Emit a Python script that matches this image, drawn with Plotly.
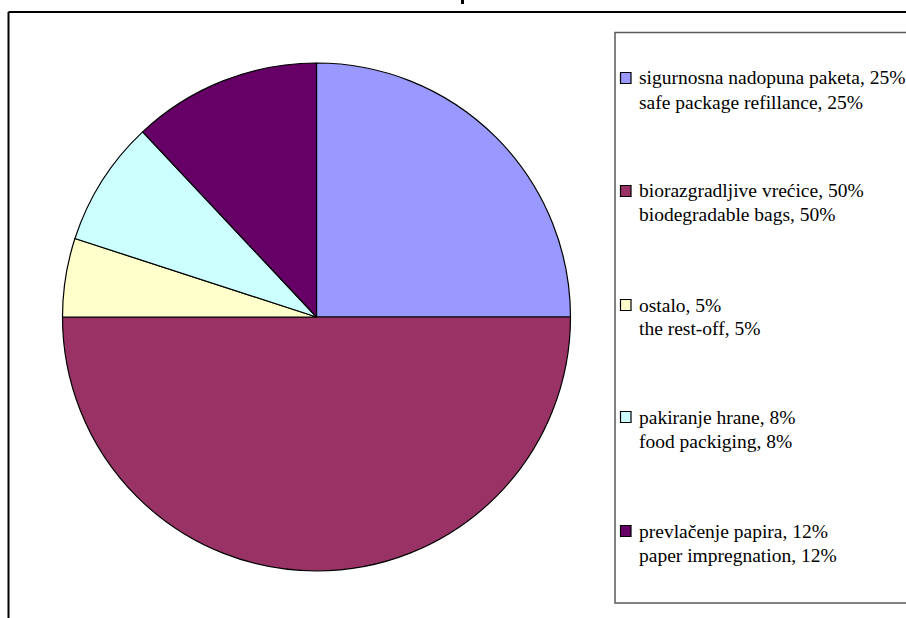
import plotly.graph_objects as go

# Share of use, in percent (Croatian / English labels)
labels_hr = ["sigurnosna nadopuna paketa", "biorazgradljive vrećice", "ostalo",
             "pakiranje hrane", "prevlačenje papira"]
labels_en = ["safe package refillance", "biodegradable bags", "the rest-off",
             "food packiging", "paper impregnation"]
values = [25, 50, 5, 8, 12]
colors = ["#9999FF", "#993366", "#FFFFCC", "#CCFFFF", "#660066"]

W, H = 906, 618
SERIF = "Times New Roman, Liberation Serif, Tinos, DejaVu Serif, serif"


def px(x):
    return x / W


def py(y):
    return 1 - y / H


# pie geometry in pixels
cx, cy, r = 316.5, 317, 254

fig = go.Figure(go.Pie(
    labels=[f"{a}, {v}%" for a, v in zip(labels_hr, values)],
    values=values,
    sort=False,
    direction="clockwise",
    rotation=0,
    marker=dict(colors=colors, line=dict(color="black", width=1.2)),
    textinfo="none",
    hoverinfo="skip",
    showlegend=False,
    domain=dict(x=[px(cx - r), px(cx + r)], y=[py(cy + r), py(cy - r)]),
))

shapes = [
    # outer frame (top and left edges)
    dict(type="line", xref="paper", yref="paper", x0=px(8.5), x1=px(W + 5),
         y0=py(12), y1=py(12), line=dict(color="black", width=2)),
    dict(type="line", xref="paper", yref="paper", x0=px(8.5), x1=px(8.5),
         y0=py(12), y1=py(H + 5), line=dict(color="black", width=2)),
    # small tick above the frame
    dict(type="rect", xref="paper", yref="paper", x0=px(461), x1=px(464),
         y0=py(0), y1=py(4), line=dict(width=0), fillcolor="black"),
    # legend box
    dict(type="rect", xref="paper", yref="paper", x0=px(615), x1=px(W + 10),
         y0=py(32.5), y1=py(603), line=dict(color="#5a5a5a", width=1.5),
         fillcolor="rgba(0,0,0,0)"),
]

annotations = []
item_y = [78, 191, 305, 417, 531]
for hr, en, v, c, yc in zip(labels_hr, labels_en, values, colors, item_y):
    shapes.append(dict(type="rect", xref="paper", yref="paper",
                       x0=px(620.5), x1=px(631), y0=py(yc - 5.5), y1=py(yc + 5.5),
                       line=dict(color="black", width=1.2), fillcolor=c))
    for txt, dy in ((f"{hr}, {v}%", 0), (f"{en}, {v}%", 24)):
        annotations.append(dict(
            xref="paper", yref="paper", x=px(637), y=py(yc + dy),
            xanchor="left", yanchor="middle", showarrow=False, text=txt,
            font=dict(family=SERIF, size=19.5, color="black")))

fig.update_layout(
    width=W, height=H,
    margin=dict(l=0, r=0, t=0, b=0),
    paper_bgcolor="white", plot_bgcolor="white",
    font=dict(family=SERIF),
    shapes=shapes, annotations=annotations,
)

fig.write_html("out.html")
